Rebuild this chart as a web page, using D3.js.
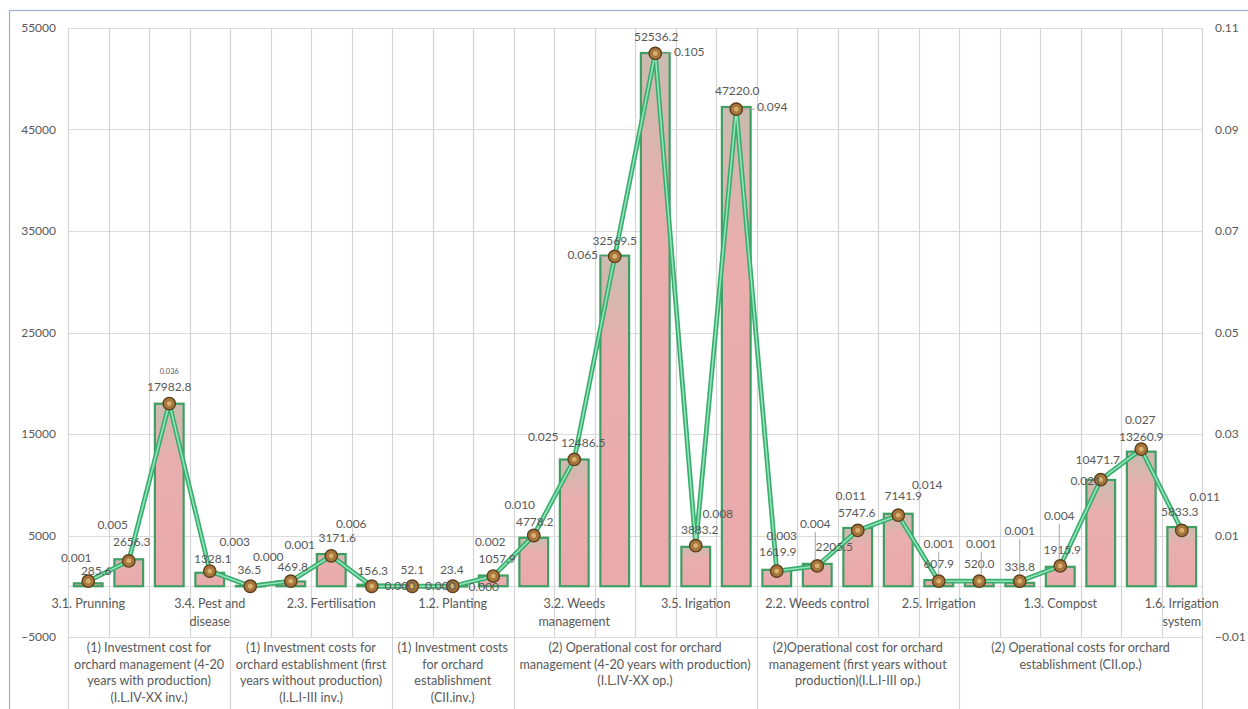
<!DOCTYPE html>
<html>
<head>
<meta charset="utf-8">
<script src="https://cdn.jsdelivr.net/npm/d3@7"></script>
<style>
  html, body { margin: 0; padding: 0; background: #ffffff; }
  svg { display: block; }
  text { font-family: Lato, "Open Sans", "Liberation Sans", sans-serif; fill: #595959; }
</style>
</head>
<body>
<svg id="chart" width="1248" height="709"></svg>
<script>
// Cost items (first-level categories); only every third label is printed on the axis
const categories = [
  "3.1. Prunning", "3.2.", "3.3.", "3.4. Pest and disease",
  "2.1.", "2.2.", "2.3. Fertilisation", "2.4.",
  "1.1.", "1.2. Planting", "1.3.",
  "3.1.", "3.2. Weeds management", "3.3.", "3.4.", "3.5. Irigation", "3.6.",
  "2.1.", "2.2. Weeds control", "2.3.", "2.4.", "2.5. Irrigation",
  "1.1.", "1.2.", "1.3. Compost", "1.4.", "1.5.", "1.6. Irrigation system"
];
const labelEvery = 3;

// Cost groups (second-level categories) and how many items each holds
const groupLabels = [
  ["(1) Investment cost for", "orchard management (4-20", "years with production)", "(I.L.IV-XX inv.)"],
  ["(1) Investment costs for", "orchard establishment (first", "years without production)", "(I.L.I-III inv.)"],
  ["(1) Investment costs", "for orchard", "establishment", "(CII.inv.)"],
  ["(2) Operational cost for orchard", "management (4-20 years with production)", "(I.L.IV-XX op.)"],
  ["(2)Operational cost for orchard", "management (first years without", "production)(I.L.I-III op.)"],
  ["(2) Operational costs for orchard", "establishment (CII.op.)"]
];
const groupSizes = [4, 4, 3, 6, 5, 6];

// Series: cost values (bars, left axis) and their shares (line, right axis)
const costValues = [
  285.6, 2656.3, 17982.8, 1328.1,
  36.5, 469.8, 3171.6, 156.3,
  52.1, 23.4, 1057.9,
  4778.2, 12486.5, 32569.5, 52536.2, 3883.2, 47220.0,
  1619.9, 2205.5, 5747.6, 7141.9, 607.9,
  520.0, 338.8, 1915.9, 10471.7, 13260.9, 5833.3
];
const shareValues = [
  0.001, 0.005, 0.036, 0.003,
  0.000, 0.001, 0.006, 0.000,
  0.000, 0.000, 0.002,
  0.010, 0.025, 0.065, 0.105, 0.008, 0.094,
  0.003, 0.004, 0.011, 0.014, 0.001,
  0.001, 0.001, 0.004, 0.021, 0.027, 0.011
];

// Axis ticks
const leftTicks = [-5000, 5000, 15000, 25000, 35000, 45000, 55000];
const rightTicks = [-0.01, 0.01, 0.03, 0.05, 0.07, 0.09, 0.11];

// Label placement (offsets in px from the bar top / the line marker)
const valueLabelOffsets = [
  [8,-11],[3,-16],[0,-16],[3,-13],
  [-1,-15],[2,-14],[6,-15],[1,-13],
  [0,-15],[-1,-15],[4,-16],
  [1,-15],[9,-16],[0,-14],[1,-15],[4,-16],[1,-15],
  [1,-17],[17,-16],[-1,-14],[5,-17],[0,-15],
  [0,-16],[0,-15],[2,-16],[-3,-19],[0,-14],[-2,-14]
];
const shareLabelOffsets = [
  [-12,-22],[-16,-35],[0,-31],[25,-28],
  [18,-28],[9,-35],[20,-31],[28,1],
  [28,1],[31,2],[-3,-33],
  [-14,-30],[-31,-21],[-32,0],[34,0],[22,-31],[36,-1],
  [5,-34],[-2,-41],[-7,-33],[29,-29],[0,-36],
  [2,-36],[0,-49],[-1,-49],[-15,2],[-1,-28],[23,-32]
];
const shareLeaders = [
  false,false,false,false, false,false,false,false, false,false,false,
  false,false,true,true,false,true,
  false,true,false,false,true,
  true,true,true,false,false,false
];

const svg = d3.select("#chart");
const plot = { left: 68, right: 1202, top: 28, bottom: 637 };

// chart frame
svg.append("rect")
  .attr("x", 9.5).attr("y", 10.5)
  .attr("width", 1260).attr("height", 720)
  .attr("fill", "#ffffff")
  .attr("stroke", "#9fb0d0").attr("stroke-width", 1.2);

const idx = d3.range(categories.length);
const x = d3.scaleBand().domain(idx).range([plot.left, plot.right]).paddingInner(0).paddingOuter(0);
const yL = d3.scaleLinear().domain([-5000, 55000]).range([plot.bottom, plot.top]);
const yR = d3.scaleLinear().domain([-0.01, 0.11]).range([plot.bottom, plot.top]);
const barWidth = x.bandwidth() * 0.71;

// horizontal gridlines
svg.append("g").selectAll("line").data(leftTicks.concat([0])).join("line")
  .attr("x1", plot.left).attr("x2", plot.right)
  .attr("y1", d => Math.round(yL(d)) + 0.5).attr("y2", d => Math.round(yL(d)) + 0.5)
  .attr("stroke", "#dcdcdc").attr("stroke-width", 1);

// vertical separators between items, longer ones between groups
const groupEdges = [0];
groupSizes.forEach(s => groupEdges.push(groupEdges[groupEdges.length - 1] + s));
svg.append("g").selectAll("line").data(d3.range(categories.length + 1)).join("line")
  .attr("x1", i => Math.round(plot.left + i * x.step()) + 0.5)
  .attr("x2", i => Math.round(plot.left + i * x.step()) + 0.5)
  .attr("y1", plot.top)
  .attr("y2", i => groupEdges.includes(i) ? 709 : plot.bottom)
  .attr("stroke", "#d4d4d4").attr("stroke-width", 1.2);

// left axis
const leftAxis = svg.append("g").attr("transform", `translate(${plot.left - 12},0)`)
  .call(d3.axisLeft(yL).tickValues(leftTicks).tickSize(0).tickPadding(0).tickFormat(d3.format("d")));
leftAxis.select(".domain").remove();
leftAxis.selectAll("text").style("font-size", "12px").attr("fill", "#595959");

// right axis
const rightAxis = svg.append("g").attr("transform", `translate(${plot.right + 13},0)`)
  .call(d3.axisRight(yR).tickValues(rightTicks).tickSize(0).tickPadding(0).tickFormat(d3.format(".2f")));
rightAxis.select(".domain").remove();
rightAxis.selectAll("text").style("font-size", "12px").attr("fill", "#595959");

// bar gradient
const defs = svg.append("defs");
const grad = defs.append("linearGradient").attr("id", "barFill")
  .attr("x1", 0).attr("y1", 0).attr("x2", 0).attr("y2", 1);
grad.append("stop").attr("offset", "0%").attr("stop-color", "#c9bcb0");
grad.append("stop").attr("offset", "30%").attr("stop-color", "#e9aeae");
grad.append("stop").attr("offset", "100%").attr("stop-color", "#eaa9aa");

// bars
svg.append("g").selectAll("rect").data(idx).join("rect")
  .attr("x", i => x(i) + (x.bandwidth() - barWidth) / 2)
  .attr("y", i => yL(costValues[i]))
  .attr("width", barWidth)
  .attr("height", i => Math.max(0.5, yL(0) - yL(costValues[i])))
  .attr("fill", "url(#barFill)")
  .attr("stroke", "#3f9e62").attr("stroke-width", 2.2);

// share line
const line = d3.line().x(i => x(i) + x.bandwidth() / 2).y(i => yR(shareValues[i]));
svg.append("path").datum(idx).attr("d", line)
  .attr("fill", "none").attr("stroke", "#38ad6c").attr("stroke-width", 4.8).attr("stroke-linejoin", "round");
svg.append("path").datum(idx).attr("d", line)
  .attr("fill", "none").attr("stroke", "#93e4bc").attr("stroke-width", 1.6).attr("stroke-linejoin", "round");

// markers
const mk = svg.append("g").selectAll("g").data(idx).join("g")
  .attr("transform", i => `translate(${x(i) + x.bandwidth() / 2},${yR(shareValues[i])})`);
mk.append("circle").attr("r", 6.2).attr("fill", "#a7773e").attr("stroke", "#5e3f1c").attr("stroke-width", 1.4);
mk.append("circle").attr("r", 2.4).attr("fill", "#d8b070");

// value labels
svg.append("g").selectAll("text").data(idx).join("text")
  .attr("x", i => x(i) + x.bandwidth() / 2 + valueLabelOffsets[i][0])
  .attr("y", i => yL(costValues[i]) + valueLabelOffsets[i][1])
  .attr("text-anchor", "middle").attr("dominant-baseline", "middle")
  .style("font-size", "12px")
  .text(i => d3.format(".1f")(costValues[i]));

// share labels with leader lines
const shareG = svg.append("g");
idx.forEach(i => {
  const cx = x(i) + x.bandwidth() / 2, cy = yR(shareValues[i]);
  const [dx, dy] = shareLabelOffsets[i];
  const lx = cx + dx, ly = cy + dy;
  const t = shareG.append("text")
    .attr("x", lx).attr("y", ly)
    .attr("text-anchor", "middle").attr("dominant-baseline", "middle")
    .style("font-size", i === 2 ? "7.5px" : "12px")
    .text(d3.format(".3f")(shareValues[i]));
  if (shareLeaders[i]) {
    const w = t.node().getComputedTextLength();
    let p;
    if (Math.abs(dx) > Math.abs(dy)) {
      const sx = dx < 0 ? lx + w / 2 + 2 : lx - w / 2 - 2;
      const ex = dx < 0 ? cx - 7 : cx + 7;
      p = [[sx, cy], [ex, cy]];
    } else {
      p = [[lx, ly + 7], [lx, cy - 7]];
    }
    shareG.append("line")
      .attr("x1", p[0][0]).attr("y1", p[0][1]).attr("x2", p[1][0]).attr("y2", p[1][1])
      .attr("stroke", "#a6a6a6").attr("stroke-width", 1);
  }
});

// wrapped item labels
function wrapWords(str, maxW, sizePx) {
  const probe = svg.append("text").style("font-size", sizePx + "px");
  const words = str.split(" ");
  const lines = [];
  let cur = "";
  words.forEach(w => {
    const test = cur ? cur + " " + w : w;
    probe.text(test);
    if (probe.node().getComputedTextLength() > maxW && cur) { lines.push(cur); cur = w; }
    else cur = test;
  });
  if (cur) lines.push(cur);
  probe.remove();
  return lines;
}
const catG = svg.append("g");
idx.filter(i => i % labelEvery === 0).forEach(i => {
  const lines = wrapWords(categories[i], 104, 12.6);
  const t = catG.append("text")
    .attr("x", x(i) + x.bandwidth() / 2).attr("y", 608)
    .attr("text-anchor", "middle").style("font-size", "12.6px");
  lines.forEach((ln, k) => t.append("tspan")
    .attr("x", x(i) + x.bandwidth() / 2).attr("dy", k === 0 ? 0 : 17.5).text(ln));
});

// group labels
const grpG = svg.append("g");
groupLabels.forEach((lines, g) => {
  const cx = plot.left + (groupEdges[g] + groupEdges[g + 1]) / 2 * x.step();
  const t = grpG.append("text").attr("x", cx).attr("y", 652)
    .attr("text-anchor", "middle").style("font-size", "12.6px");
  lines.forEach((ln, k) => t.append("tspan").attr("x", cx).attr("dy", k === 0 ? 0 : 16.5).text(ln));
});
</script>
</body>
</html>
